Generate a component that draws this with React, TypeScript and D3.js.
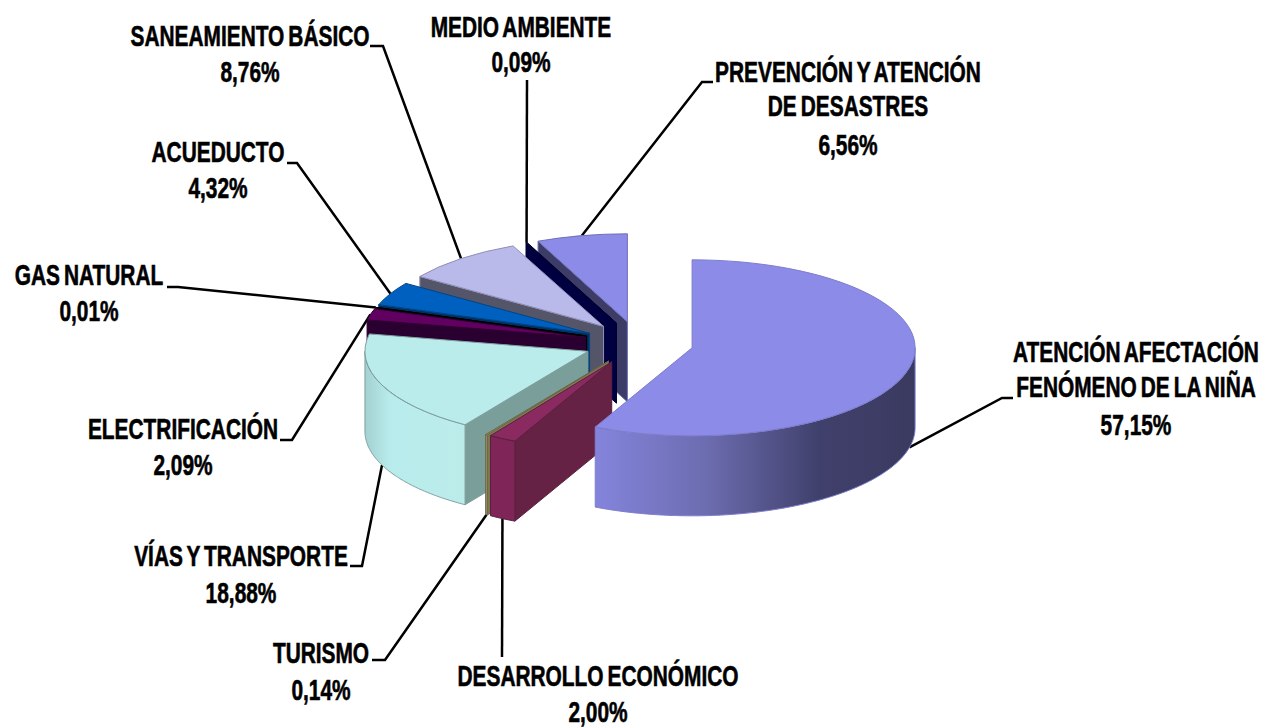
import { useEffect, useRef } from 'react';
import * as d3 from 'd3';

const categories = [
  ['ATENCIÓN AFECTACIÓN', 'FENÓMENO DE LA NIÑA'],
  ['DESARROLLO ECONÓMICO'],
  ['TURISMO'],
  ['VÍAS Y TRANSPORTE'],
  ['ELECTRIFICACIÓN'],
  ['GAS NATURAL'],
  ['ACUEDUCTO'],
  ['SANEAMIENTO BÁSICO'],
  ['MEDIO AMBIENTE'],
  ['PREVENCIÓN Y ATENCIÓN', 'DE DESASTRES'],
];
const values = [57.15, 2.0, 0.14, 18.88, 2.09, 0.01, 4.32, 8.76, 0.09, 6.56];
const valueLabels = ['57,15%', '2,00%', '0,14%', '18,88%', '2,09%', '0,01%', '4,32%', '8,76%', '0,09%', '6,56%'];

// colours of each slice: top face, outer wall, radial wall, outline
const topColors = ['#8c8ce8', '#8a2a60', '#a09a70', '#bbecec', '#600060', '#000000', '#0060c0', '#b9b9ea', '#000050', '#8c8ce8'];
const wallColors = ['url(#ninaWall)', '#7f2557', '#a09a70', 'url(#viasWall)', '#2a0030', '#000000', '#003060', '#55556a', '#000040', '#3c3c66'];
const sideColors = ['#3c3c66', '#662244', '#807850', '#7a9e9a', '#2a0030', '#000000', '#003060', '#55556a', '#000040', '#3c3c66'];
const edgeColors = ['#7d7dcc', '#5a2040', '#6a6648', '#80a0a0', '#300030', '#000000', '#004488', '#8f8fb8', '#000030', '#6f6fb8'];

// label placement: centre x, one baseline per line, leader elbow [x, y] and its stub end
const labelX = [1136, 598, 321, 241, 183, 89, 218, 250, 521, 848];
const labelY = [[362, 397, 435], [686, 722], [663, 700], [566, 603], [439, 475], [285, 321], [162, 198], [46, 82], [37, 72], [82, 116, 155]];
const elbows = [[1002, 398], [502, 657], [385, 660], [362, 566], [292, 440], [178, 287], [297, 163], [383, 46], [527, 80], [702, 82]];
const stubs = [[1013, 398], [502, 657], [372, 660], [350, 566], [280, 440], [167, 287], [287, 163], [370, 46], [527, 80], [713, 82]];

const width = 1270;
const height = 728;
const cx = 638.6;
const cy = 343;
const rx = 223;
const ry = 88;
const depth = 80;
const explode = 0.246;

const App = () => {
  const svgRef = useRef<SVGSVGElement>(null);

  useEffect(() => {
    const svg = d3.select(svgRef.current);
    svg.selectAll('*').remove();

    const defs = svg.append('defs');
    const addGradient = (id: string, stops: [string, string][]) => {
      const g = defs.append('linearGradient').attr('id', id);
      stops.forEach(([o, c]) => g.append('stop').attr('offset', o).attr('stop-color', c));
    };
    addGradient('ninaWall', [['0%', '#8484dc'], ['35%', '#6c6cb0'], ['70%', '#40406c'], ['100%', '#3a3a60']]);
    addGradient('viasWall', [['0%', '#a4d0d0'], ['25%', '#b8ecec'], ['100%', '#bcecea']]);

    const pie = d3.pie<number>().value((d) => d).sort(null);
    const arcs = pie(values);
    const topArc = d3.arc().innerRadius(0).outerRadius(rx);

    const apexOf = (d: d3.PieArcDatum<number>) => {
      const mid = (d.startAngle + d.endAngle) / 2;
      return [cx + explode * rx * Math.sin(mid), cy - explode * ry * Math.cos(mid)];
    };
    const rimOf = (d: d3.PieArcDatum<number>, a: number) => {
      const [x, y] = apexOf(d);
      return [x + rx * Math.sin(a), y - ry * Math.cos(a)];
    };

    // leader lines go under the pie
    const line = d3.line();
    svg
      .append('g')
      .selectAll('path')
      .data(arcs)
      .enter()
      .append('path')
      .attr('d', (d, i) => {
        const mid = (d.startAngle + d.endAngle) / 2;
        const rim = rimOf(d, mid);
        const anchor: [number, number] = [rim[0], rim[1] + (Math.cos(mid) < 0 ? depth : 0)];
        return line([anchor, elbows[i] as [number, number], stubs[i] as [number, number]]);
      })
      .attr('fill', 'none')
      .attr('stroke', '#000')
      .attr('stroke-width', 2.5);

    // back to front, the big slice last
    const order = [9, 8, 7, 6, 5, 4, 3, 2, 1, 0];
    const wall = d3
      .area<number>()
      .x((a) => 0)
      .y0(0)
      .y1(0);

    order.forEach((i) => {
      const d = arcs[i];
      const g = svg.append('g');
      const apex = apexOf(d);

      // radial wall facing the viewer
      const sideAngle = d.startAngle > Math.PI ? d.startAngle : d.endAngle < Math.PI ? d.endAngle : null;
      if (sideAngle !== null && d.startAngle > 0.01) {
        const rim = rimOf(d, sideAngle);
        g.append('path')
          .attr('d', line([
            apex as [number, number],
            rim as [number, number],
            [rim[0], rim[1] + depth],
            [apex[0], apex[1] + depth],
          ]) + 'Z')
          .attr('fill', sideColors[i])
          .attr('stroke', edgeColors[i])
          .attr('stroke-width', 1);
      }

      // outer wall, lower half of the rim only
      const lo = Math.max(d.startAngle, Math.PI / 2);
      const hi = Math.min(d.endAngle, (3 * Math.PI) / 2);
      if (lo < hi) {
        const samples = d3.range(lo, hi, 0.01).concat(hi);
        wall
          .x((a) => rimOf(d, a)[0])
          .y0((a) => rimOf(d, a)[1])
          .y1((a) => rimOf(d, a)[1] + depth);
        g.append('path')
          .attr('d', wall(samples))
          .attr('fill', wallColors[i])
          .attr('stroke', edgeColors[i])
          .attr('stroke-width', 1);
      }

      g.append('path')
        .attr('d', topArc(d as any))
        .attr('transform', `translate(${apex[0]},${apex[1]}) scale(1,${ry / rx})`)
        .attr('fill', topColors[i])
        .attr('stroke', edgeColors[i])
        .attr('stroke-width', 1)
        .attr('vector-effect', 'non-scaling-stroke');
    });

    // labels: tall narrow bold text, as in the stretched source picture
    const labels = svg.append('g').attr('font-family', 'Liberation Sans, Arial, sans-serif');
    categories.forEach((lines, i) => {
      [...lines, valueLabels[i]].forEach((t, j) => {
        labels
          .append('text')
          .attr('transform', `translate(${labelX[i]},${labelY[i][j]}) scale(0.72,1)`)
          .attr('text-anchor', 'middle')
          .attr('font-size', 29)
          .attr('font-weight', 700)
          .attr('word-spacing', -2.5)
          .attr('fill', '#000')
          .attr('stroke', '#000')
          .attr('stroke-width', 0.6)
          .text(t);
      });
    });
  }, []);

  return (
    <svg
      ref={svgRef}
      width={width}
      height={height}
      style={{ position: 'absolute', left: 0, top: 0, display: 'block', background: '#fff' }}
    />
  );
};

export default App;
